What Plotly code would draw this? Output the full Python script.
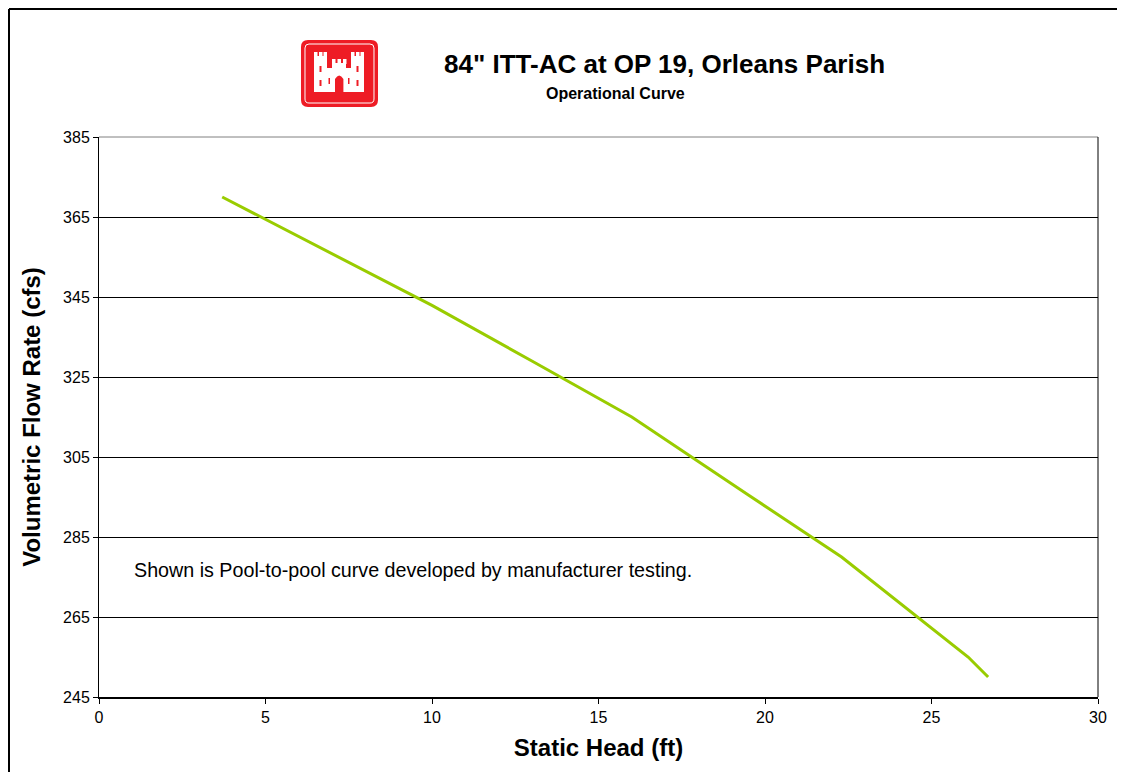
import plotly.graph_objects as go

# ---- data ----
static_head_ft = [3.7, 6.5, 10.0, 13.0, 16.0, 19.5, 22.3, 26.1, 26.7]
flow_cfs = [370.0, 358.0, 342.9, 329.0, 315.0, 295.5, 280.0, 255.0, 250.0]
x_ticks = [0, 5, 10, 15, 20, 25, 30]
y_ticks = [245, 265, 285, 305, 325, 345, 365, 385]

# page body adds an 8px offset in the browser
OFF = 8
W, H = 1125 - OFF, 772 - OFF
# plot area in screen pixels
L, R, T, B = 99, 1098, 137, 697


def px(x):
    return (x - L) / (R - L)


def py(y):
    return (B - y) / (B - T)


def rounded(x0, y0, x1, y1, r):
    pts = [
        ("M", x0 + r, y0), ("L", x1 - r, y0), ("Q", x1, y0, x1, y0 + r),
        ("L", x1, y1 - r), ("Q", x1, y1, x1 - r, y1), ("L", x0 + r, y1),
        ("Q", x0, y1, x0, y1 - r), ("L", x0, y0 + r), ("Q", x0, y0, x0 + r, y0),
    ]
    out = []
    for p in pts:
        cmd = p[0]
        coords = p[1:]
        s = []
        for i in range(0, len(coords), 2):
            s.append("%f,%f" % (px(coords[i]), py(coords[i + 1])))
        out.append(cmd + " " + " ".join(s))
    return " ".join(out) + " Z"


fig = go.Figure()
fig.add_trace(go.Scatter(
    x=static_head_ft, y=flow_cfs, mode="lines",
    line=dict(color="#99CC00", width=3), showlegend=False,
    hoverinfo="x+y"))

shapes = []
# outer chart border (left and top visible)
shapes.append(dict(type="line", xref="paper", yref="paper",
                   x0=px(9), x1=px(9), y0=py(9), y1=py(800),
                   line=dict(color="black", width=2)))
shapes.append(dict(type="line", xref="paper", yref="paper",
                   x0=px(9), x1=px(1200), y0=py(9), y1=py(9),
                   line=dict(color="black", width=2)))


def rect(x0, y0, x1, y1, color, **kw):
    d = dict(type="rect", xref="paper", yref="paper",
             x0=px(x0), x1=px(x1), y0=py(y0), y1=py(y1),
             fillcolor=color, line=dict(width=0))
    d.update(kw)
    return d


RED = "#EE1C25"
# logo background (rounded)
shapes.append(dict(type="path", xref="paper", yref="paper",
                   path=rounded(301, 40, 378, 107, 7),
                   fillcolor=RED, line=dict(width=0)))
shapes.append(dict(type="path", xref="paper", yref="paper",
                   path=rounded(305, 44, 374, 103, 4),
                   fillcolor="rgba(0,0,0,0)", line=dict(color="white", width=1)))
# castle
shapes.append(rect(314, 56, 327, 92, "white"))      # left tower
shapes.append(rect(351, 56, 364, 92, "white"))      # right tower
shapes.append(rect(332, 63, 346, 92, "white"))      # center tower
shapes.append(rect(326, 68, 352, 92, "white"))      # wall
# battlements
for x0 in (314, 319, 323.5, 351, 356, 360.5, 332, 337.5, 343):
    top = 63 if x0 in (332, 337.5, 343) else 56
    shapes.append(rect(x0, top - 4, x0 + 3.5, top + 1, "white"))
# gate
shapes.append(dict(type="path", xref="paper", yref="paper",
                   path="M %f,%f L %f,%f Q %f,%f %f,%f L %f,%f Z" % (
                       px(335), py(92), px(335), py(79), px(339.2), py(72),
                       px(343.4), py(79), px(343.4), py(92)),
                   fillcolor=RED, line=dict(width=0)))
# window slits
for x0 in (319.5, 356.5):
    shapes.append(rect(x0, 66, x0 + 2, 72, RED))
    shapes.append(rect(x0, 80, x0 + 2, 86, RED))
for x0 in (328.5, 348):
    shapes.append(rect(x0, 78, x0 + 1.5, 84, RED))

# plot-area frame: grey top, black right
shapes.append(dict(type="line", xref="paper", yref="paper", x0=0, x1=1, y0=1, y1=1,
                   line=dict(color="#808080", width=1)))
shapes.append(dict(type="line", xref="paper", yref="paper", x0=1, x1=1, y0=0, y1=1,
                   line=dict(color="black", width=1)))

fig.update_layout(
    width=W, height=H, autosize=False,
    margin=dict(l=L - OFF, r=W - (R - OFF), t=T - OFF, b=H - (B - OFF), pad=0),
    paper_bgcolor="white", plot_bgcolor="white",
    font=dict(family="Liberation Sans, Arial, sans-serif", color="black"),
    shapes=shapes,
    xaxis=dict(
        range=[0, 30], tickvals=x_ticks, ticktext=[str(v) for v in x_ticks],
        showgrid=False, zeroline=False,
        showline=True, linecolor="black", linewidth=2, mirror=False,
        ticks="outside", ticklen=5, tickcolor="black", tickwidth=1,
        tickfont=dict(size=16, color="black"),
        title=dict(text="<b>Static Head (ft)</b>", font=dict(size=24), standoff=14),
    ),
    yaxis=dict(
        range=[245, 385], tickvals=y_ticks, ticktext=[str(v) for v in y_ticks],
        showgrid=True, gridcolor="black", gridwidth=1, zeroline=False,
        showline=True, linecolor="black", linewidth=1, mirror=False,
        ticks="outside", ticklen=5, tickcolor="black", tickwidth=1,
        tickfont=dict(size=16, color="black"),
        title=dict(text="<b>Volumetric Flow Rate (cfs)</b>", font=dict(size=24), standoff=15),
    ),
    annotations=[
        dict(text="<b>84\" ITT-AC at OP 19, Orleans Parish</b>", xref="paper", yref="paper",
             x=px(664), y=py(64), xanchor="center", yanchor="middle",
             showarrow=False, font=dict(size=26)),
        dict(text="<b>Operational Curve</b>", xref="paper", yref="paper",
             x=px(615), y=py(93), xanchor="center", yanchor="middle",
             showarrow=False, font=dict(size=16)),
        dict(text="Shown is Pool-to-pool curve developed by manufacturer testing.",
             xref="x", yref="y", x=1.0, y=276.75, xanchor="left", yanchor="middle",
             showarrow=False, font=dict(size=19.7)),
    ],
)

fig.write_html("out.html")
